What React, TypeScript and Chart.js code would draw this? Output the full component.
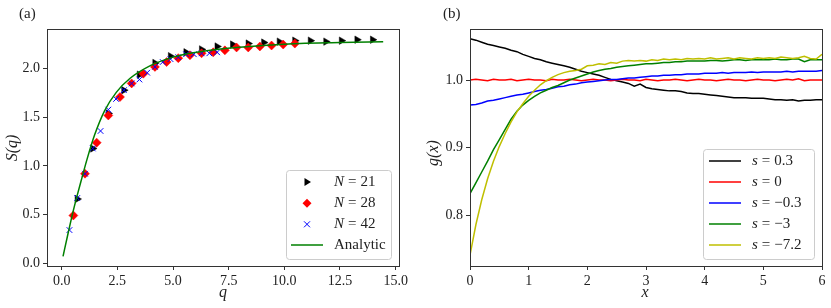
import { useEffect, useRef } from 'react';
import { Chart, registerables } from 'chart.js';

Chart.register(...registerables);

const FONT = '"Liberation Serif", "DejaVu Serif", serif';

// ---------- Panel (a): S(q) ----------
const qN21 = [0.698, 1.396, 2.094, 2.793, 3.491, 4.189, 4.887, 5.585, 6.283, 6.981, 7.679, 8.378, 9.076, 9.774, 10.472, 11.170, 11.868, 12.566, 13.265, 13.963];
const sN21 = [0.66, 1.18, 1.54, 1.78, 1.94, 2.06, 2.13, 2.17, 2.20, 2.23, 2.25, 2.26, 2.27, 2.28, 2.29, 2.29, 2.28, 2.29, 2.30, 2.30];

const qN28 = [0.524, 1.047, 1.571, 2.094, 2.618, 3.142, 3.665, 4.189, 4.712, 5.236, 5.760, 6.283, 6.807, 7.330, 7.854, 8.378, 8.901, 9.425, 9.948, 10.472];
const sN28 = [0.49, 0.92, 1.24, 1.52, 1.71, 1.85, 1.95, 2.02, 2.07, 2.11, 2.14, 2.16, 2.17, 2.19, 2.22, 2.22, 2.23, 2.24, 2.25, 2.26];

const qN42 = [0.349, 0.698, 1.047, 1.396, 1.745, 2.094, 2.443, 2.793, 3.142, 3.491, 3.840, 4.189, 4.538, 4.887, 5.236, 5.585, 5.934, 6.283, 6.632, 6.981];
const sN42 = [0.34, 0.67, 0.92, 1.18, 1.36, 1.58, 1.69, 1.78, 1.85, 1.89, 1.96, 2.02, 2.07, 2.10, 2.12, 2.15, 2.15, 2.16, 2.16, 2.17];

const qAnalytic = [0.06, 0.3, 0.5, 0.7, 0.9, 1.14, 1.48, 1.93, 2.46, 3.06, 3.96, 4.85, 5.75, 6.95, 8.45, 10.7, 12.5, 14.44];
const sAnalytic = [0.07, 0.32, 0.52, 0.70, 0.87, 1.07, 1.32, 1.57, 1.76, 1.90, 2.03, 2.11, 2.16, 2.20, 2.23, 2.26, 2.27, 2.28];

const qTicks = [0, 2.5, 5, 7.5, 10, 12.5, 15];
const sTicks = [0, 0.5, 1, 1.5, 2];

// ---------- Panel (b): g(x) ----------
const xGrid = [0.0, 0.1, 0.2, 0.3, 0.4, 0.5, 0.6, 0.7, 0.8, 0.9, 1.0, 1.1, 1.2, 1.3, 1.4, 1.5, 1.6, 1.7, 1.8, 1.9, 2.0, 2.1, 2.2, 2.3, 2.4, 2.5, 2.6, 2.7, 2.8, 2.9, 3.0, 3.1, 3.2, 3.3, 3.4, 3.5, 3.6, 3.7, 3.8, 3.9, 4.0, 4.1, 4.2, 4.3, 4.4, 4.5, 4.6, 4.7, 4.8, 4.9, 5.0, 5.1, 5.2, 5.3, 5.4, 5.5, 5.6, 5.7, 5.8, 5.9, 6.0];

const gS03 = [1.061, 1.059, 1.056, 1.053, 1.051, 1.049, 1.047, 1.044, 1.042, 1.038, 1.035, 1.032, 1.030, 1.027, 1.025, 1.023, 1.021, 1.019, 1.016, 1.013, 1.011, 1.009, 1.007, 1.004, 1.001, 0.999, 0.997, 0.995, 0.991, 0.994, 0.989, 0.987, 0.986, 0.985, 0.984, 0.984, 0.983, 0.981, 0.980, 0.980, 0.979, 0.978, 0.977, 0.976, 0.975, 0.974, 0.974, 0.974, 0.973, 0.973, 0.973, 0.972, 0.971, 0.971, 0.970, 0.971, 0.969, 0.970, 0.970, 0.971, 0.971];
const gS0 = [1.000, 1.001, 1.000, 0.999, 1.001, 1.000, 1.000, 1.001, 0.999, 1.000, 1.001, 1.000, 1.000, 0.999, 1.001, 1.000, 1.000, 1.001, 1.000, 0.999, 1.000, 1.001, 1.000, 1.000, 0.999, 1.000, 1.001, 1.000, 1.000, 0.999, 1.001, 1.000, 0.999, 1.000, 1.000, 1.001, 1.000, 0.999, 1.000, 1.001, 1.000, 1.000, 0.999, 1.000, 1.001, 1.000, 1.000, 0.999, 1.000, 1.001, 1.000, 1.000, 0.999, 1.000, 1.001, 1.000, 1.002, 0.999, 1.000, 1.000, 1.000];
const gSm03 = [0.963, 0.964, 0.966, 0.969, 0.970, 0.972, 0.974, 0.976, 0.978, 0.979, 0.981, 0.983, 0.985, 0.986, 0.988, 0.990, 0.991, 0.993, 0.994, 0.996, 0.997, 0.998, 0.999, 1.000, 1.001, 1.001, 1.002, 1.003, 1.003, 1.004, 1.005, 1.006, 1.006, 1.007, 1.007, 1.008, 1.008, 1.009, 1.009, 1.009, 1.010, 1.010, 1.010, 1.011, 1.010, 1.011, 1.011, 1.011, 1.012, 1.011, 1.012, 1.012, 1.012, 1.012, 1.013, 1.012, 1.013, 1.013, 1.013, 1.013, 1.014];
const gSm3 = [0.832, 0.848, 0.864, 0.880, 0.897, 0.912, 0.927, 0.942, 0.954, 0.963, 0.970, 0.976, 0.981, 0.985, 0.989, 0.992, 0.996, 1.000, 1.003, 1.006, 1.009, 1.012, 1.014, 1.016, 1.017, 1.019, 1.020, 1.021, 1.022, 1.023, 1.024, 1.024, 1.025, 1.026, 1.026, 1.027, 1.027, 1.028, 1.028, 1.028, 1.028, 1.029, 1.029, 1.028, 1.029, 1.030, 1.030, 1.029, 1.030, 1.030, 1.030, 1.030, 1.031, 1.030, 1.030, 1.031, 1.031, 1.027, 1.030, 1.030, 1.030];
const gSm72 = [0.741, 0.786, 0.823, 0.854, 0.880, 0.902, 0.921, 0.938, 0.953, 0.965, 0.976, 0.985, 0.993, 0.999, 1.004, 1.008, 1.011, 1.013, 1.014, 1.016, 1.021, 1.022, 1.024, 1.023, 1.026, 1.025, 1.028, 1.029, 1.028, 1.029, 1.028, 1.030, 1.029, 1.031, 1.030, 1.031, 1.030, 1.032, 1.031, 1.032, 1.031, 1.033, 1.031, 1.032, 1.033, 1.031, 1.033, 1.032, 1.031, 1.033, 1.032, 1.033, 1.032, 1.034, 1.033, 1.032, 1.033, 1.035, 1.032, 1.031, 1.038];

const xTicks = [0, 1, 2, 3, 4, 5, 6];
const gTicks = [0.8, 0.9, 1.0];

const COLORS = { black: '#000000', red: '#ff0000', blue: '#0000ff', green: '#008000', yellow: '#bfbf00' };
const TEXT = '#222222';
const SPINE = '#333333';

type Part = { t: string; italic?: boolean; gap?: number };

function drawParts(ctx: CanvasRenderingContext2D, parts: Part[], x: number, y: number, size: number) {
  let cx = x;
  ctx.textBaseline = 'middle';
  ctx.textAlign = 'left';
  for (const p of parts) {
    ctx.font = `${p.italic ? 'italic ' : ''}${size}px ${FONT}`;
    ctx.fillText(p.t, cx, y);
    cx += ctx.measureText(p.t).width + (p.gap ?? 0);
  }
}

function roundRect(ctx: CanvasRenderingContext2D, x: number, y: number, w: number, h: number, r: number) {
  ctx.beginPath();
  ctx.moveTo(x + r, y);
  ctx.lineTo(x + w - r, y);
  ctx.arcTo(x + w, y, x + w, y + r, r);
  ctx.lineTo(x + w, y + h - r);
  ctx.arcTo(x + w, y + h, x + w - r, y + h, r);
  ctx.lineTo(x + r, y + h);
  ctx.arcTo(x, y + h, x, y + h - r, r);
  ctx.lineTo(x, y + r);
  ctx.arcTo(x, y, x + r, y, r);
  ctx.closePath();
}

function legendBox(ctx: CanvasRenderingContext2D, x: number, y: number, w: number, h: number) {
  roundRect(ctx, x + 0.5, y + 0.5, w, h, 3);
  ctx.fillStyle = 'rgba(255,255,255,0.85)';
  ctx.fill();
  ctx.strokeStyle = '#cccccc';
  ctx.lineWidth = 1;
  ctx.stroke();
}

function frame(chart: Chart) {
  const { ctx, chartArea: a } = chart;
  ctx.save();
  ctx.strokeStyle = SPINE;
  ctx.lineWidth = 1;
  ctx.strokeRect(Math.round(a.left) + 0.5, Math.round(a.top) + 0.5, Math.round(a.right - a.left), Math.round(a.bottom - a.top));
  ctx.restore();
}

function axisConf(min: number, max: number, ticks: number[], fmt: (v: number) => string, horizontal: boolean, size: number) {
  return {
    type: 'linear' as const,
    min,
    max,
    afterBuildTicks: (s: any) => {
      s.ticks = ticks.map((v) => ({ value: v }));
    },
    afterFit: (s: any) => {
      if (horizontal) s.height = size;
      else s.width = size;
    },
    ticks: {
      font: { family: FONT, size: 14 },
      color: TEXT,
      padding: 3,
      maxRotation: 0,
      autoSkip: false,
      callback: (v: any) => fmt(Number(v)),
    },
    grid: { display: true, drawOnChartArea: false, drawTicks: true, tickLength: 4, color: SPINE },
    border: { display: false },
  };
}

const pts = (xs: number[], ys: number[]) => xs.map((x, i) => ({ x, y: ys[i] }));

export default function App() {
  const leftRef = useRef<HTMLCanvasElement>(null);
  const rightRef = useRef<HTMLCanvasElement>(null);

  useEffect(() => {
    const leftPlugin = {
      id: 'leftDecor',
      afterDraw(chart: Chart) {
        const ctx = chart.ctx;
        frame(chart);
        ctx.save();
        ctx.fillStyle = TEXT;
        ctx.font = `15px ${FONT}`;
        ctx.textAlign = 'left';
        ctx.textBaseline = 'middle';
        ctx.fillText('(a)', 19, 14);
        ctx.font = `italic 16px ${FONT}`;
        ctx.textAlign = 'center';
        ctx.fillText('q', 223, 293);
        ctx.save();
        ctx.translate(13, 148);
        ctx.rotate(-Math.PI / 2);
        ctx.font = `italic 16px ${FONT}`;
        ctx.fillText('S(q)', 0, 0);
        ctx.restore();
        legendBox(ctx, 286, 170, 105, 89);
        const rows = [182, 203.3, 224.3, 245];
        const mx = 307;
        ctx.fillStyle = COLORS.black;
        ctx.beginPath();
        ctx.moveTo(mx + 4, rows[0]);
        ctx.lineTo(mx - 2.5, rows[0] - 4);
        ctx.lineTo(mx - 2.5, rows[0] + 4);
        ctx.closePath();
        ctx.fill();
        ctx.fillStyle = COLORS.red;
        ctx.beginPath();
        ctx.moveTo(mx, rows[1] - 4.5);
        ctx.lineTo(mx + 4.5, rows[1]);
        ctx.lineTo(mx, rows[1] + 4.5);
        ctx.lineTo(mx - 4.5, rows[1]);
        ctx.closePath();
        ctx.fill();
        ctx.strokeStyle = COLORS.blue;
        ctx.lineWidth = 1;
        ctx.beginPath();
        ctx.moveTo(mx - 3, rows[2] - 3);
        ctx.lineTo(mx + 3, rows[2] + 3);
        ctx.moveTo(mx + 3, rows[2] - 3);
        ctx.lineTo(mx - 3, rows[2] + 3);
        ctx.stroke();
        ctx.strokeStyle = COLORS.green;
        ctx.lineWidth = 1.5;
        ctx.beginPath();
        ctx.moveTo(291, rows[3]);
        ctx.lineTo(323, rows[3]);
        ctx.stroke();
        ctx.fillStyle = TEXT;
        const labels = ['21', '28', '42'];
        labels.forEach((l, i) => {
          drawParts(ctx, [{ t: 'N', italic: true, gap: 4 }, { t: '=', gap: 4 }, { t: l }], 334, rows[i], 15);
        });
        drawParts(ctx, [{ t: 'Analytic' }], 334, rows[3], 15);
        ctx.restore();
      },
    };

    const rightPlugin = {
      id: 'rightDecor',
      afterDraw(chart: Chart) {
        const ctx = chart.ctx;
        frame(chart);
        ctx.save();
        ctx.fillStyle = TEXT;
        ctx.font = `15px ${FONT}`;
        ctx.textAlign = 'left';
        ctx.textBaseline = 'middle';
        ctx.fillText('(b)', 28, 14);
        ctx.font = `italic 16px ${FONT}`;
        ctx.textAlign = 'center';
        ctx.fillText('x', 230, 293);
        ctx.save();
        ctx.translate(19, 153);
        ctx.rotate(-Math.PI / 2);
        ctx.fillText('g(x)', 0, 0);
        ctx.restore();
        const ox = 415;
        legendBox(ctx, 703 - ox, 149, 111, 110);
        const items: [string, string][] = [
          [COLORS.black, '0.3'],
          [COLORS.red, '0'],
          [COLORS.blue, '\u22120.3'],
          [COLORS.green, '\u22123'],
          [COLORS.yellow, '\u22127.2'],
        ];
        items.forEach(([c, l], i) => {
          const y = 161 + 21 * i;
          ctx.strokeStyle = c;
          ctx.lineWidth = 1.5;
          ctx.beginPath();
          ctx.moveTo(709 - ox, y);
          ctx.lineTo(741 - ox, y);
          ctx.stroke();
          ctx.fillStyle = TEXT;
          drawParts(ctx, [{ t: 's', italic: true, gap: 4 }, { t: '=', gap: 4 }, { t: l }], 752 - ox, y, 15);
        });
        ctx.restore();
      },
    };

    const left = new Chart(leftRef.current!, {
      type: 'scatter',
      data: {
        datasets: [
          {
            label: 'Analytic',
            data: pts(qAnalytic, sAnalytic),
            showLine: true,
            borderColor: COLORS.green,
            borderWidth: 1.5,
            pointRadius: 0,
            cubicInterpolationMode: 'monotone',
            order: 0,
          },
          {
            label: 'N = 42',
            data: pts(qN42, sN42),
            pointStyle: 'crossRot',
            pointRadius: 4,
            borderColor: COLORS.blue,
            backgroundColor: COLORS.blue,
            borderWidth: 1,
            order: 1,
          },
          {
            label: 'N = 28',
            data: pts(qN28, sN28),
            pointStyle: 'rectRot',
            pointRadius: 4.5,
            borderColor: COLORS.red,
            backgroundColor: COLORS.red,
            borderWidth: 0.5,
            order: 2,
          },
          {
            label: 'N = 21',
            data: pts(qN21, sN21),
            pointStyle: 'triangle',
            rotation: 90,
            pointRadius: 4.3,
            borderColor: COLORS.black,
            backgroundColor: COLORS.black,
            borderWidth: 0.5,
            order: 3,
          },
        ],
      },
      options: {
        animation: false,
        responsive: false,
        events: [],
        layout: { padding: { top: 29, right: 16, left: 0, bottom: 0 } },
        plugins: { legend: { display: false }, tooltip: { enabled: false } },
        scales: {
          x: axisConf(-0.66, 15.15, qTicks, (v) => v.toFixed(1), true, 42),
          y: axisConf(-0.03, 2.41, sTicks, (v) => v.toFixed(1), false, 47),
        },
      },
      plugins: [leftPlugin],
    } as any);

    const lineDs = (label: string, ys: number[], color: string, order: number) => ({
      label,
      data: pts(xGrid, ys),
      showLine: true,
      borderColor: color,
      borderWidth: 1.5,
      pointRadius: 0,
      order,
    });

    const right = new Chart(rightRef.current!, {
      type: 'scatter',
      data: {
        datasets: [
          lineDs('s = -7.2', gSm72, COLORS.yellow, 0),
          lineDs('s = -3', gSm3, COLORS.green, 1),
          lineDs('s = -0.3', gSm03, COLORS.blue, 2),
          lineDs('s = 0', gS0, COLORS.red, 3),
          lineDs('s = 0.3', gS03, COLORS.black, 4),
        ],
      },
      options: {
        animation: false,
        responsive: false,
        events: [],
        layout: { padding: { top: 29, right: 9, left: 0, bottom: 0 } },
        plugins: { legend: { display: false }, tooltip: { enabled: false } },
        scales: {
          x: axisConf(0, 6, xTicks, (v) => String(Math.round(v)), true, 42),
          y: axisConf(0.725, 1.0755, gTicks, (v) => v.toFixed(1), false, 55),
        },
      },
      plugins: [rightPlugin],
    } as any);

    return () => {
      left.destroy();
      right.destroy();
    };
  }, []);

  return (
    <div style={{ position: 'fixed', left: 0, top: 0, width: 831, height: 308, background: '#fff' }}>
      <canvas ref={leftRef} width={415} height={308} style={{ position: 'absolute', left: 0, top: 0, width: 415, height: 308 }} />
      <canvas ref={rightRef} width={416} height={308} style={{ position: 'absolute', left: 415, top: 0, width: 416, height: 308 }} />
    </div>
  );
}
